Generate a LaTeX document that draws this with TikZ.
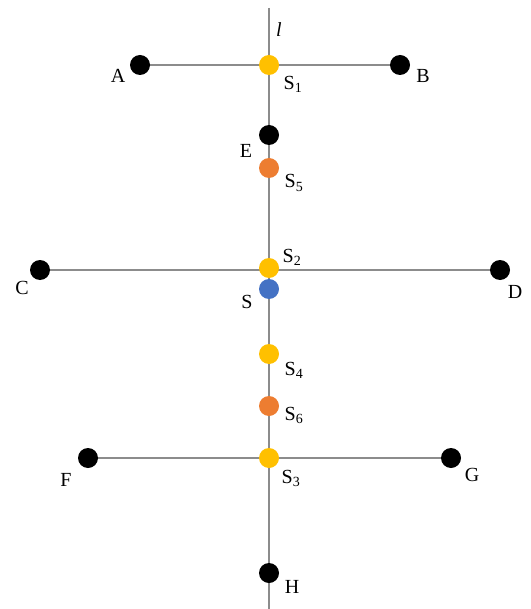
\documentclass[tikz,border=0pt]{standalone}
\usepackage{fontspec}
\setmainfont{Liberation Serif}
\usetikzlibrary{backgrounds}
\definecolor{ptyellow}{HTML}{FFC000}
\definecolor{ptorange}{HTML}{ED7D31}
\definecolor{ptblue}{HTML}{4472C4}
\definecolor{axisgray}{HTML}{8C8C8C}
\begin{document}
\begin{tikzpicture}[x=1pt,y=-1pt,
  pt/.style={circle,inner sep=0pt,minimum size=20pt},
  blackpt/.style={pt,fill=black},
  yellowpt/.style={pt,fill=ptyellow},
  orangept/.style={pt,fill=ptorange},
  bluept/.style={pt,fill=ptblue},
  axis/.style={draw=axisgray,line width=2pt},
  lbl/.style={font=\fontsize{20}{20}\selectfont,inner sep=0pt}]
\useasboundingbox (0,0) rectangle (530,609);
% points
\node[blackpt] (A) at (140,65) {};
\node[blackpt] (B) at (400,65) {};
\node[blackpt] (C) at (40,270) {};
\node[blackpt] (D) at (500,270) {};
\node[blackpt] (F) at (88,458) {};
\node[blackpt] (G) at (451,458) {};
\node[blackpt] (E) at (269,135) {};
\node[blackpt] (H) at (269,573) {};
\node[yellowpt] (S1) at (269,65) {};
\node[orangept] (S5) at (269,168) {};
\node[yellowpt] (S2) at (269,268) {};
\node[bluept] (S) at (269,289) {};
\node[yellowpt] (S4) at (269,354) {};
\node[orangept] (S6) at (269,406) {};
\node[yellowpt] (S3) at (269,458) {};
% axis l and the three chords, behind the points
\coordinate (top) at (269,8);
\coordinate (bottom) at (269,609);
\begin{scope}[on background layer]
\draw[axis] (top) -- (bottom);
\draw[axis] (A.center) -- (B.center);
\draw[axis] (C.center) -- (D.center);
\draw[axis] (F.center) -- (G.center);
\end{scope}
% labels
\node[lbl] at (279,30) {\textit{l}};
\node[lbl] at (118,76) {A};
\node[lbl] at (423,76) {B};
\node[lbl] at (246,151) {E};
\node[lbl] at (22,288) {C};
\node[lbl] at (515,292) {D};
\node[lbl] at (66,480) {F};
\node[lbl] at (472,475) {G};
\node[lbl] at (292,587) {H};
\node[lbl] at (247,302) {S};
\node[lbl] at (293,84) {S\textsubscript{1}};
\node[lbl] at (292,257) {S\textsubscript{2}};
\node[lbl] at (291,478) {S\textsubscript{3}};
\node[lbl] at (294,370) {S\textsubscript{4}};
\node[lbl] at (294,183) {S\textsubscript{5}};
\node[lbl] at (294,415) {S\textsubscript{6}};
\end{tikzpicture}
\end{document}
